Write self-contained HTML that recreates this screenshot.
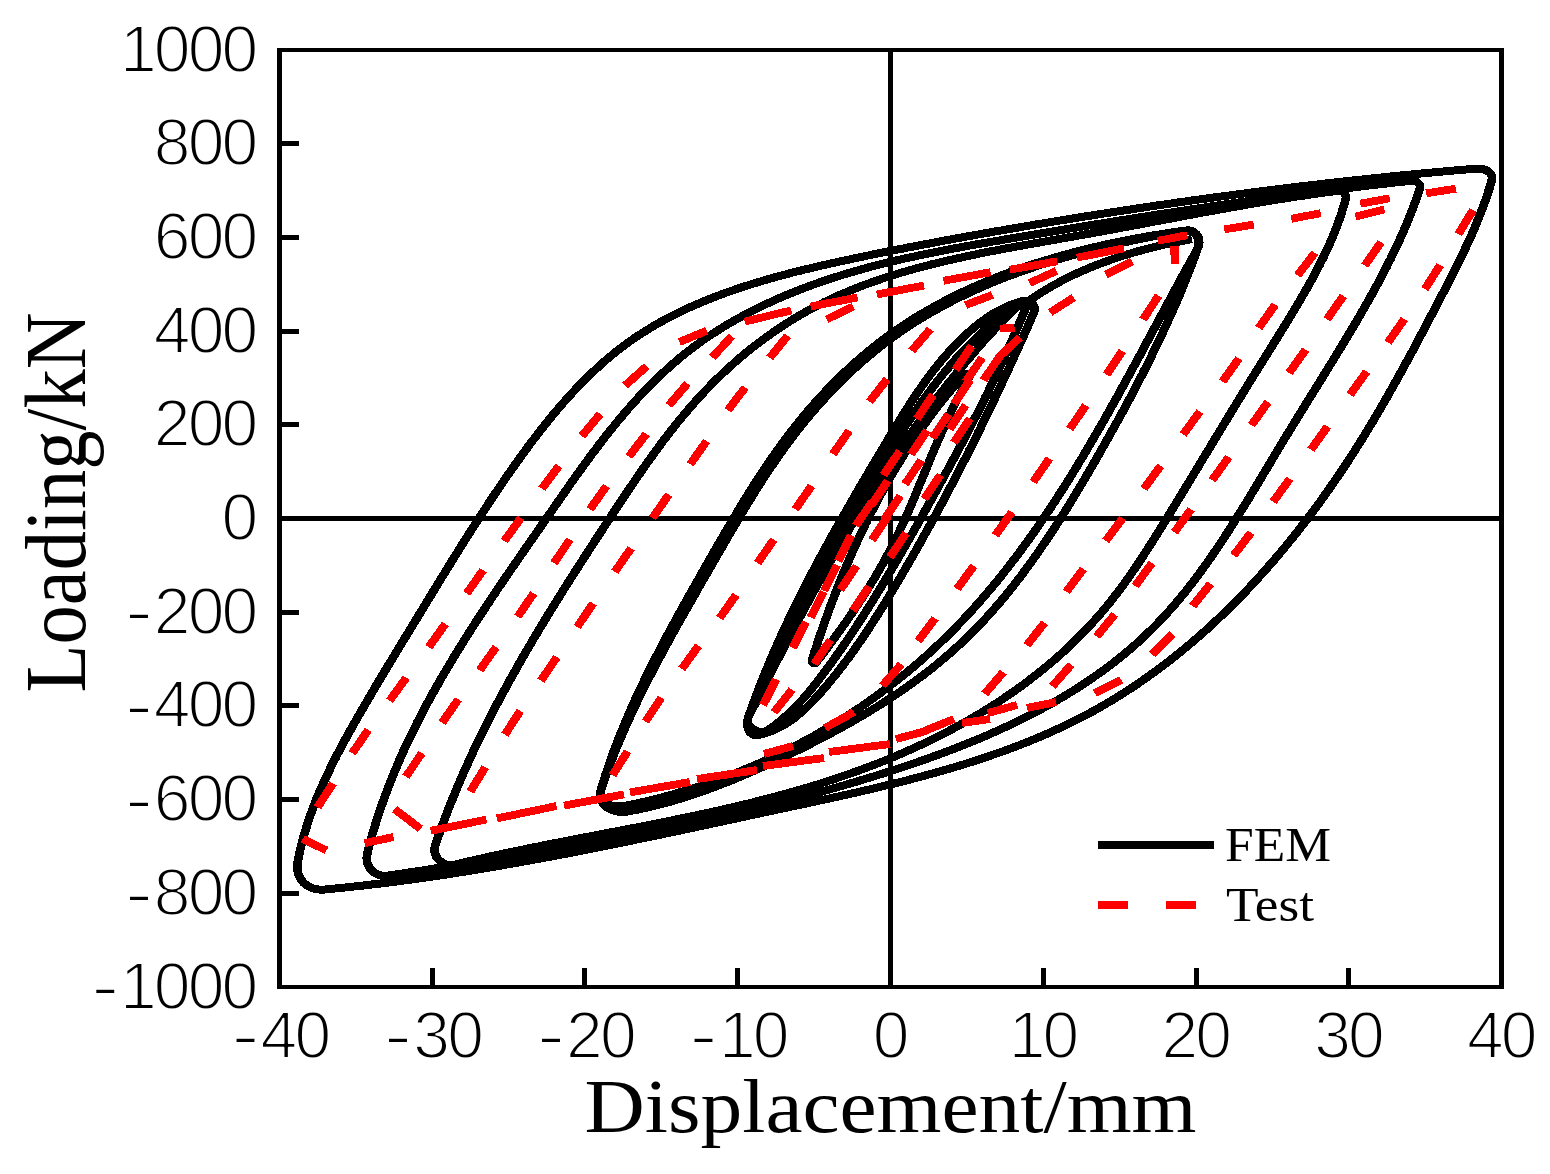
<!DOCTYPE html>
<html lang="en">
<head>
<meta charset="utf-8">
<title>Loading - Displacement hysteresis curves (FEM vs Test)</title>
<style>
html,body{margin:0;padding:0;background:#fff;}
body{width:1550px;height:1174px;overflow:hidden;}
svg{display:block;}
.tick{font-family:"Liberation Sans","DejaVu Sans",sans-serif;font-size:66px;fill:#000;}
.ser{font-family:"Liberation Serif","DejaVu Serif",serif;fill:#000;}
</style>
</head>
<body>
<svg width="1550" height="1174" viewBox="0 0 1550 1174">
<rect x="0" y="0" width="1550" height="1174" fill="#ffffff"/>

<g id="axes" fill="#000000" shape-rendering="crispEdges">
<rect x="277" y="48" width="1227" height="4"/>
<rect x="277" y="985" width="1227" height="4"/>
<rect x="277" y="48" width="5" height="941"/>
<rect x="1499" y="48" width="5" height="941"/>
<rect x="888" y="48" width="5" height="941"/>
<rect x="277" y="516" width="1227" height="5"/>
<rect x="430" y="968" width="5" height="18"/>
<rect x="582" y="968" width="5" height="18"/>
<rect x="735" y="968" width="5" height="18"/>
<rect x="1041" y="968" width="5" height="18"/>
<rect x="1194" y="968" width="5" height="18"/>
<rect x="1346" y="968" width="5" height="18"/>
<rect x="281" y="891" width="18" height="5"/>
<rect x="281" y="797" width="18" height="5"/>
<rect x="281" y="703" width="18" height="5"/>
<rect x="281" y="610" width="18" height="5"/>
<rect x="281" y="422" width="18" height="5"/>
<rect x="281" y="329" width="18" height="5"/>
<rect x="281" y="235" width="18" height="5"/>
<rect x="281" y="141" width="18" height="5"/>
</g>
<g id="fem" shape-rendering="crispEdges" transform="scale(1.08,1)" fill="none" stroke="#000000" stroke-width="8" stroke-linejoin="round" stroke-linecap="butt">
<path d="M751.9 660.0L753.0 656.2L754.1 652.3L755.3 648.5L756.5 644.7L757.6 640.8L758.8 637.0L760.0 633.2L761.3 629.4L762.5 625.6L763.7 621.8L765.0 618.0L766.3 614.2L767.5 610.4L768.8 606.6L770.1 602.8L771.5 599.0L772.8 595.2L774.2 591.5L775.5 587.7L776.9 583.9L778.3 580.2L779.7 576.4L781.1 572.7L782.6 569.0L784.0 565.3L785.5 561.5L787.0 557.8L788.5 554.1L790.0 550.4L791.5 546.7L793.1 543.1L794.6 539.4L796.2 535.7L797.8 532.1L799.4 528.5L801.0 524.8L802.7 521.2L804.3 517.6L806.0 514.0L807.7 510.4L809.4 506.8L811.1 503.2L812.9 499.7L814.6 496.1L816.4 492.6L818.2 489.0L820.0 485.5L821.9 482.0L823.7 478.5L825.6 475.0L827.5 471.6L829.4 468.1L831.3 464.6L833.3 461.2L835.2 457.8L837.2 454.4L839.2 451.0L841.2 447.6L843.3 444.2L845.4 440.9L847.4 437.5L849.5 434.2L851.7 430.9L853.8 427.6L856.0 424.3L858.2 421.1L860.4 417.8L862.6 414.6L864.8 411.3L867.1 408.1L869.4 405.0L871.7 401.8L874.0 398.6L876.4 395.5L878.8 392.4L881.2 389.3L883.6 386.2L886.0 383.1L888.5 380.0L891.0 377.0L893.5 374.0L894.2 373.5L894.9 373.5L895.7 373.8L896.4 374.5L897.0 375.3L897.3 376.2L897.4 377.1L897.2 378.0L895.3 381.5L893.5 385.0L891.7 388.5L889.9 392.0L888.2 395.6L886.5 399.1L884.8 402.7L883.1 406.3L881.5 409.9L879.9 413.5L878.3 417.1L876.7 420.8L875.2 424.4L873.7 428.1L872.1 431.7L870.7 435.4L869.2 439.1L867.7 442.7L866.3 446.4L864.8 450.1L863.4 453.8L861.9 457.5L860.5 461.2L859.1 464.9L857.7 468.6L856.3 472.3L854.9 476.0L853.5 479.7L852.0 483.4L850.6 487.1L849.2 490.8L847.8 494.5L846.3 498.2L844.9 501.9L843.4 505.6L842.0 509.2L840.5 512.9L839.0 516.5L837.5 520.2L836.0 523.8L834.4 527.4L832.9 531.1L831.3 534.7L829.7 538.3L828.0 541.8L826.4 545.4L824.7 548.9L823.0 552.5L821.3 556.0L819.5 559.5L817.7 563.0L815.9 566.5L814.1 570.0L812.2 573.4L810.4 576.9L808.5 580.3L806.5 583.7L804.6 587.1L802.6 590.5L800.7 593.9L798.7 597.3L796.6 600.6L794.6 604.0L792.5 607.3L790.5 610.7L788.4 614.0L786.3 617.3L784.2 620.6L782.0 623.9L779.9 627.2L777.7 630.5L775.5 633.8L773.3 637.0L771.2 640.3L768.9 643.5L766.7 646.8L764.5 650.0L762.3 653.3L760.0 656.5L757.7 659.7L755.5 663.0L754.9 663.4L754.3 663.5L753.6 663.4L753.0 662.9L752.4 662.3L752.0 661.6L751.8 660.8L751.9 660.0L753.0 656.2"/>
<path d="M693.0 717.0L694.7 713.4L696.3 709.9L698.0 706.3L699.7 702.8L701.3 699.2L703.0 695.7L704.6 692.2L706.3 688.6L708.0 685.1L709.7 681.5L711.3 678.0L713.0 674.4L714.7 670.9L716.4 667.3L718.1 663.8L719.8 660.2L721.5 656.7L723.2 653.1L724.9 649.6L726.6 646.0L728.3 642.5L730.0 638.9L731.7 635.4L733.5 631.9L735.2 628.3L736.9 624.8L738.7 621.2L740.4 617.7L742.2 614.2L743.9 610.6L745.7 607.1L747.4 603.6L749.2 600.1L751.0 596.6L752.7 593.0L754.5 589.5L756.3 586.0L758.1 582.5L759.9 579.0L761.7 575.5L763.5 572.0L765.3 568.5L767.2 565.0L769.0 561.5L770.8 558.0L772.7 554.5L774.5 551.1L776.4 547.6L778.2 544.1L780.1 540.6L782.0 537.2L783.8 533.7L785.7 530.3L787.6 526.8L789.5 523.4L791.4 519.9L793.4 516.5L795.3 513.1L797.2 509.7L799.1 506.2L801.1 502.8L803.0 499.4L805.0 496.0L807.0 492.6L809.0 489.2L810.9 485.9L812.9 482.5L814.9 479.1L817.0 475.8L819.0 472.4L821.0 469.1L823.0 465.7L825.1 462.4L827.1 459.1L829.2 455.7L831.3 452.4L833.4 449.1L835.5 445.8L837.6 442.5L839.7 439.2L841.8 436.0L843.9 432.7L846.1 429.4L848.2 426.2L850.4 422.9L852.6 419.7L854.7 416.5L856.9 413.3L859.1 410.1L861.3 406.9L863.6 403.7L865.8 400.5L868.1 397.3L870.3 394.1L872.6 391.0L874.9 387.8L877.1 384.7L879.4 381.6L881.8 378.5L884.1 375.4L886.4 372.3L888.8 369.2L891.1 366.1L893.5 363.1L895.9 360.0L898.3 357.0L900.7 353.9L903.1 350.9L905.5 347.9L908.0 344.9L910.4 341.9L912.9 338.9L915.4 336.0L917.9 333.0L920.4 330.1L922.9 327.2L925.4 324.2L928.0 321.3L930.5 318.4L933.1 315.6L935.7 312.7L938.3 309.8L940.9 307.0L943.5 304.2L946.2 301.4"/>
<path d="M693.0 716.9L694.6 713.4L696.3 709.8L698.0 706.2L699.6 702.6L701.3 699.0L702.9 695.5L704.6 691.9L706.2 688.3L707.9 684.7L709.5 681.1L711.2 677.5L712.8 673.9L714.5 670.3L716.1 666.7L717.8 663.1L719.5 659.5L721.1 655.9L722.8 652.3L724.4 648.7L726.1 645.1L727.8 641.5L729.4 637.9L731.1 634.4L732.8 630.8L734.4 627.2L736.1 623.6L737.8 620.0L739.5 616.4L741.1 612.8L742.8 609.2L744.5 605.6L746.2 602.0L747.9 598.4L749.6 594.8L751.3 591.3L753.0 587.7L754.7 584.1L756.4 580.5L758.1 576.9L759.9 573.4L761.6 569.8L763.3 566.2L765.1 562.6L766.8 559.1L768.6 555.5L770.3 551.9L772.1 548.4L773.8 544.8L775.6 541.3L777.4 537.7L779.2 534.2L780.9 530.6L782.7 527.1L784.5 523.5L786.4 520.0L788.2 516.5L790.0 513.0L791.8 509.4L793.7 505.9L795.5 502.4L797.3 498.9L799.2 495.4L801.1 491.9L802.9 488.4L804.8 484.9L806.7 481.4L808.6 477.9L810.5 474.4L812.4 470.9L814.4 467.5L816.3 464.0L818.2 460.5L820.2 457.1L822.1 453.6L824.1 450.2L826.1 446.7L828.1 443.3L830.1 439.9L832.1 436.4L834.1 433.0L836.2 429.6L838.2 426.2L840.3 422.9L842.4 419.5L844.5 416.1L846.6 412.8L848.7 409.5L850.8 406.2L853.0 402.9L855.2 399.6L857.4 396.3L859.6 393.1L861.8 389.9L864.0 386.7L866.3 383.5L868.6 380.3L870.9 377.2L873.2 374.0L875.6 371.0L878.0 367.9L880.4 364.8L882.8 361.8L885.2 358.8L887.7 355.9L890.2 352.9L892.7 350.0L895.3 347.1L897.8 344.3L900.4 341.5L903.1 338.7L905.7 335.9L908.4 333.2L911.1 330.5L913.9 327.9L916.6 325.2L919.4 322.7L922.3 320.1L925.1 317.6L928.0 315.2L931.0 312.7L933.9 310.3L936.9 308.0L940.0 305.7L943.0 303.4L946.1 301.2L947.1 300.8L948.0 301.0L948.8 301.5L949.5 302.3L950.0 303.4L950.3 304.6L950.4 305.9L950.1 307.0L948.7 310.8L947.3 314.5L945.9 318.2L944.4 321.9L943.0 325.6L941.5 329.2L940.1 332.9L938.6 336.6L937.1 340.2L935.6 343.9L934.1 347.5L932.6 351.2L931.1 354.8L929.6 358.4L928.0 362.0L926.5 365.6L924.9 369.3L923.3 372.9L921.8 376.4L920.2 380.0L918.6 383.6L917.0 387.2L915.4 390.8L913.8 394.3L912.1 397.9L910.5 401.5L908.9 405.0L907.2 408.6L905.6 412.1L903.9 415.7L902.2 419.2L900.6 422.7L898.9 426.3L897.2 429.8L895.5 433.3L893.8 436.8L892.1 440.4L890.4 443.9L888.6 447.4L886.9 450.9L885.2 454.4L883.4 457.9L881.7 461.4L880.0 464.9L878.2 468.4L876.4 471.9L874.7 475.4L872.9 478.9L871.1 482.4L869.4 485.9L867.6 489.4L865.8 492.9L864.0 496.4L862.2 499.8L860.4 503.3L858.6 506.8L856.8 510.3L855.0 513.8L853.2 517.3L851.4 520.8L849.6 524.3L847.8 527.7L845.9 531.2L844.1 534.7L842.3 538.2L840.4 541.7L838.6 545.2L836.7 548.6L834.9 552.1L833.0 555.6L831.2 559.1L829.3 562.5L827.4 566.0L825.5 569.5L823.6 572.9L821.8 576.4L819.8 579.8L817.9 583.3L816.0 586.7L814.1 590.1L812.2 593.5L810.2 597.0L808.3 600.4L806.3 603.8L804.3 607.2L802.4 610.6L800.4 614.0L798.4 617.3L796.4 620.7L794.3 624.1L792.3 627.4L790.3 630.8L788.2 634.1L786.1 637.4L784.1 640.7L782.0 644.0L779.9 647.3L777.8 650.6L775.6 653.9L773.5 657.1L771.4 660.4L769.2 663.6L767.0 666.9L764.8 670.1L762.6 673.3L760.4 676.4L758.2 679.6L755.9 682.8L753.6 685.9L751.3 689.0L749.0 692.0L746.6 695.1L744.2 698.1L741.7 701.0L739.2 703.9L736.7 706.8L734.1 709.6L731.4 712.4L728.7 715.1L725.9 717.7L723.1 720.3L720.2 722.9L717.3 725.3L714.2 727.7L711.1 730.0L707.9 731.6L704.3 731.9L700.7 731.0L697.4 729.3L694.7 726.8L692.8 723.8L692.2 720.5L693.0 716.9L694.6 713.4"/>
<path d="M693.0 717.0L694.2 713.2L695.5 709.4L696.8 705.5L698.1 701.7L699.4 697.9L700.7 694.2L702.0 690.4L703.4 686.6L704.8 682.9L706.1 679.1L707.5 675.4L708.9 671.7L710.3 668.0L711.8 664.3L713.2 660.6L714.7 656.9L716.1 653.2L717.6 649.6L719.1 645.9L720.6 642.3L722.1 638.7L723.6 635.0L725.2 631.4L726.7 627.8L728.3 624.2L729.8 620.6L731.4 617.0L733.0 613.4L734.6 609.8L736.2 606.3L737.9 602.7L739.5 599.1L741.1 595.6L742.8 592.0L744.4 588.5L746.1 584.9L747.8 581.4L749.5 577.9L751.2 574.4L752.9 570.8L754.6 567.3L756.3 563.8L758.1 560.3L759.8 556.8L761.6 553.3L763.3 549.8L765.1 546.3L766.9 542.8L768.7 539.3L770.4 535.8L772.2 532.3L774.0 528.9L775.9 525.4L777.7 521.9L779.5 518.4L781.3 514.9L783.2 511.5L785.0 508.0L786.9 504.5L788.7 501.0L790.6 497.5L792.4 494.1L794.3 490.6L796.2 487.1L798.1 483.6L800.0 480.2L801.9 476.7L803.7 473.2L805.6 469.7L807.6 466.2L809.5 462.7L811.4 459.2L813.3 455.8L815.2 452.3L817.1 448.8L819.1 445.3L821.0 441.8L822.9 438.3L824.9 434.8L826.8 431.3L828.8 427.8L830.8 424.3L832.7 420.8L834.7 417.3L836.7 413.8L838.7 410.4L840.8 407.0L842.8 403.5L844.9 400.1L847.0 396.7L849.0 393.4L851.2 390.0L853.3 386.7L855.5 383.4L857.6 380.1L859.8 376.9L862.1 373.7L864.3 370.5L866.6 367.3L868.9 364.2L871.2 361.1L873.6 358.1L876.0 355.1L878.4 352.1L880.9 349.2L883.4 346.3L885.9 343.5L888.5 340.7L891.1 338.0L893.7 335.3L896.4 332.7L899.1 330.1L901.9 327.6L904.7 325.1L907.5 322.7L910.4 320.4L913.3 318.1L916.3 315.9L919.4 313.8L922.5 311.8L925.7 310.0L928.9 308.2L932.2 306.5L935.6 305.0L939.1 303.6L942.6 302.4L946.2 301.3L948.7 300.9L951.1 301.2L953.4 302.0L955.3 303.4L956.8 305.1L957.8 307.2L958.0 309.5L957.5 312.0L956.0 315.7L954.5 319.4L953.0 323.1L951.5 326.8L950.0 330.4L948.5 334.1L947.0 337.8L945.4 341.5L943.9 345.1L942.4 348.8L940.9 352.5L939.3 356.1L937.8 359.8L936.2 363.4L934.7 367.1L933.1 370.7L931.6 374.4L930.0 378.0L928.4 381.6L926.9 385.3L925.3 388.9L923.7 392.5L922.1 396.2L920.5 399.8L918.9 403.4L917.3 407.0L915.7 410.6L914.1 414.3L912.5 417.9L910.8 421.5L909.2 425.1L907.6 428.7L905.9 432.3L904.3 435.9L902.6 439.5L901.0 443.0L899.3 446.6L897.6 450.2L896.0 453.8L894.3 457.4L892.6 461.0L890.9 464.5L889.2 468.1L887.5 471.7L885.8 475.2L884.1 478.8L882.4 482.4L880.6 485.9L878.9 489.5L877.2 493.0L875.4 496.6L873.7 500.1L871.9 503.7L870.2 507.2L868.4 510.7L866.6 514.3L864.8 517.8L863.0 521.3L861.2 524.9L859.4 528.4L857.6 531.9L855.8 535.4L854.0 539.0L852.2 542.5L850.4 546.0L848.5 549.5L846.7 553.0L844.8 556.5L843.0 560.0L841.1 563.5L839.2 567.0L837.3 570.5L835.5 574.0L833.6 577.5L831.7 581.0L829.7 584.5L827.8 587.9L825.9 591.4L824.0 594.9L822.0 598.4L820.1 601.8L818.1 605.3L816.1 608.7L814.2 612.2L812.2 615.6L810.1 619.0L808.1 622.4L806.1 625.8L804.0 629.2L802.0 632.6L799.9 635.9L797.8 639.3L795.7 642.6L793.5 645.9L791.4 649.2L789.2 652.5L787.1 655.7L784.9 659.0L782.6 662.2L780.4 665.4L778.1 668.6L775.9 671.8L773.6 674.9L771.2 678.0L768.9 681.1L766.5 684.2L764.1 687.3L761.7 690.3L759.3 693.3L756.8 696.3L754.3 699.2L751.8 702.1L749.2 704.9L746.6 707.7L743.9 710.4L741.2 713.0L738.4 715.5L735.5 718.0L732.6 720.3L729.6 722.5L726.4 724.6L723.3 726.6L720.0 728.4L716.6 730.1L713.1 731.6L709.4 732.9L705.7 734.1L701.9 735.1L699.0 735.2L696.6 734.3L694.7 732.6L693.3 730.1L692.4 727.1L692.0 723.8L692.2 720.4L693.0 717.0L694.2 713.2"/>
<path d="M953.7 300.0L956.8 297.7L959.9 295.5L963.1 293.3L966.3 291.1L969.5 289.0L972.7 287.0L976.0 285.0L979.3 283.0L982.6 281.1L985.9 279.2L989.3 277.4L992.6 275.7L996.0 273.9L999.4 272.2L1002.9 270.6L1006.3 269.0L1009.8 267.4L1013.3 265.9L1016.8 264.4L1020.3 263.0L1023.8 261.6L1027.4 260.2L1030.9 258.9L1034.5 257.6L1038.1 256.3L1041.7 255.1L1045.3 253.9L1048.9 252.8L1052.5 251.6L1056.1 250.6L1059.8 249.5L1063.4 248.5L1067.0 247.5L1070.7 246.5L1074.4 245.6L1078.0 244.6L1081.7 243.8L1085.4 242.9L1089.0 242.1L1092.7 241.3L1096.4 240.5L1100.0 239.7L1103.7 239.0"/>
<path d="M556.4 790.0L557.6 786.2L558.8 782.4L560.0 778.6L561.3 774.8L562.6 771.0L563.9 767.3L565.2 763.5L566.5 759.8L567.9 756.1L569.2 752.3L570.6 748.6L572.0 744.9L573.5 741.2L574.9 737.5L576.4 733.9L577.9 730.2L579.3 726.5L580.9 722.9L582.4 719.3L583.9 715.6L585.5 712.0L587.1 708.4L588.6 704.8L590.2 701.1L591.9 697.5L593.5 694.0L595.1 690.4L596.8 686.8L598.4 683.2L600.1 679.6L601.8 676.1L603.5 672.5L605.2 669.0L606.9 665.4L608.7 661.9L610.4 658.3L612.2 654.8L613.9 651.2L615.7 647.7L617.5 644.2L619.2 640.7L621.0 637.1L622.8 633.6L624.6 630.1L626.4 626.6L628.2 623.1L630.1 619.6L631.9 616.1L633.7 612.6L635.6 609.1L637.4 605.6L639.3 602.1L641.1 598.6L643.0 595.1L644.8 591.6L646.7 588.1L648.5 584.6L650.4 581.1L652.2 577.6L654.1 574.2L656.0 570.7L657.8 567.2L659.7 563.7L661.6 560.2L663.4 556.7L665.3 553.2L667.2 549.7L669.0 546.2L670.9 542.7L672.8 539.2L674.6 535.7L676.5 532.3L678.4 528.8L680.3 525.3L682.2 521.8L684.1 518.3L686.0 514.9L687.9 511.4L689.8 508.0L691.8 504.5L693.7 501.1L695.7 497.7L697.6 494.2L699.6 490.8L701.6 487.4L703.6 484.0L705.6 480.6L707.6 477.2L709.7 473.9L711.7 470.5L713.8 467.2L715.9 463.9L718.0 460.5L720.1 457.2L722.3 453.9L724.4 450.7L726.6 447.4L728.8 444.2L731.0 440.9L733.3 437.7L735.5 434.5L737.8 431.3L740.1 428.2L742.4 425.0L744.8 421.9L747.2 418.8L749.5 415.7L751.9 412.6L754.4 409.6L756.8 406.6L759.3 403.6L761.8 400.6L764.3 397.6L766.8 394.7L769.4 391.7L771.9 388.8L774.5 386.0L777.2 383.1L779.8 380.3L782.4 377.5L785.1 374.7L787.8 372.0L790.5 369.3L793.3 366.6L796.0 363.9L798.8 361.3L801.6 358.6L804.4 356.1L807.3 353.5L810.1 351.0L813.0 348.5L815.9 346.0L818.9 343.6L821.8 341.2L824.8 338.8L827.8 336.4L830.8 334.1L833.8 331.9L836.9 329.6L839.9 327.4L843.0 325.2L846.1 323.0L849.2 320.9L852.4 318.8L855.6 316.8L858.7 314.7L861.9 312.7L865.1 310.7L868.4 308.8L871.6 306.9L874.9 305.0L878.2 303.1L881.5 301.2L884.8 299.4L888.1 297.6L891.4 295.9L894.8 294.2L898.1 292.4L901.5 290.8L904.9 289.1L908.3 287.5L911.7 285.9L915.2 284.3L918.6 282.7L922.1 281.2L925.5 279.7L929.0 278.2L932.5 276.7L936.0 275.3L939.5 273.9L943.0 272.5L946.5 271.1L950.0 269.8L953.6 268.5L957.1 267.2L960.7 265.9L964.2 264.6L967.8 263.4L971.4 262.2L975.0 261.0L978.5 259.8L982.1 258.6L985.7 257.5L989.3 256.4L992.9 255.3L996.6 254.2L1000.2 253.1L1003.8 252.1L1007.4 251.0L1011.0 250.0L1014.7 249.0L1018.3 248.1L1021.9 247.1L1025.6 246.2L1029.2 245.2L1032.8 244.3L1036.5 243.4L1040.1 242.6L1043.8 241.7L1047.4 240.9L1051.0 240.0L1054.7 239.2L1058.3 238.4L1061.9 237.6L1065.6 236.8L1069.2 236.1L1072.8 235.3L1076.5 234.6L1080.1 233.9L1083.7 233.2L1087.3 232.5L1090.9 231.8L1094.5 231.1L1098.1 230.5L1101.4 230.5L1104.2 231.6L1106.5 233.6L1108.3 236.3L1109.4 239.5L1109.8 243.0L1109.4 246.6L1108.2 250.0L1106.4 253.4L1104.7 256.9L1102.9 260.3L1101.2 263.8L1099.4 267.2L1097.6 270.7L1095.9 274.2L1094.1 277.6L1092.4 281.1L1090.6 284.6L1088.9 288.1L1087.1 291.6L1085.4 295.1L1083.6 298.6L1081.9 302.1L1080.1 305.6L1078.4 309.2L1076.6 312.7L1074.9 316.2L1073.1 319.7L1071.3 323.3L1069.6 326.8L1067.8 330.4L1066.1 333.9L1064.3 337.4L1062.5 341.0L1060.8 344.5L1059.0 348.1L1057.2 351.6L1055.5 355.2L1053.7 358.7L1051.9 362.3L1050.1 365.8L1048.3 369.4L1046.5 372.9L1044.7 376.5L1042.9 380.0L1041.1 383.6L1039.3 387.1L1037.5 390.7L1035.7 394.2L1033.9 397.8L1032.1 401.3L1030.2 404.8L1028.4 408.4L1026.6 411.9L1024.7 415.4L1022.9 419.0L1021.0 422.5L1019.1 426.0L1017.3 429.5L1015.4 433.0L1013.5 436.5L1011.6 440.0L1009.7 443.5L1007.8 447.0L1005.9 450.5L1004.0 454.0L1002.1 457.5L1000.1 460.9L998.2 464.4L996.3 467.9L994.3 471.3L992.3 474.8L990.4 478.2L988.4 481.6L986.4 485.1L984.4 488.5L982.4 491.9L980.3 495.3L978.3 498.7L976.3 502.1L974.2 505.4L972.2 508.8L970.1 512.1L968.0 515.5L965.9 518.8L963.8 522.2L961.7 525.5L959.6 528.8L957.5 532.1L955.3 535.4L953.2 538.6L951.0 541.9L948.8 545.1L946.6 548.4L944.4 551.6L942.2 554.8L940.0 558.0L937.7 561.2L935.5 564.4L933.2 567.5L930.9 570.7L928.6 573.8L926.3 577.0L924.0 580.1L921.6 583.2L919.3 586.2L916.9 589.3L914.5 592.3L912.1 595.4L909.7 598.4L907.3 601.4L904.9 604.4L902.4 607.4L899.9 610.3L897.4 613.3L894.9 616.2L892.4 619.1L889.9 622.0L887.3 624.8L884.8 627.7L882.2 630.5L879.6 633.3L877.0 636.1L874.3 638.9L871.7 641.7L869.0 644.4L866.3 647.2L863.6 649.9L860.9 652.5L858.2 655.2L855.4 657.9L852.7 660.5L849.9 663.1L847.1 665.7L844.3 668.3L841.4 670.8L838.6 673.4L835.7 675.9L832.8 678.4L830.0 680.8L827.0 683.3L824.1 685.7L821.2 688.1L818.2 690.5L815.3 692.9L812.3 695.3L809.3 697.6L806.3 699.9L803.3 702.2L800.2 704.5L797.2 706.8L794.1 709.0L791.0 711.2L787.9 713.4L784.8 715.6L781.7 717.7L778.6 719.9L775.5 722.0L772.3 724.1L769.1 726.1L765.9 728.2L762.7 730.2L759.5 732.2L756.3 734.2L753.1 736.2L749.8 738.1L746.6 740.0L743.3 741.9L740.0 743.8L736.8 745.7L733.5 747.5L730.1 749.3L726.8 751.1L723.5 752.9L720.1 754.6L716.8 756.4L713.4 758.1L710.0 759.8L706.6 761.4L703.2 763.1L699.8 764.7L696.4 766.3L693.0 767.8L689.5 769.4L686.1 770.9L682.6 772.4L679.2 773.9L675.7 775.4L672.2 776.8L668.7 778.2L665.2 779.6L661.7 781.0L658.2 782.3L654.6 783.6L651.1 784.9L647.5 786.2L644.0 787.5L640.4 788.7L636.8 789.9L633.2 791.1L629.7 792.2L626.1 793.4L622.4 794.5L618.8 795.6L615.2 796.6L611.6 797.7L607.9 798.7L604.3 799.7L600.7 800.7L597.0 801.6L593.3 802.5L589.7 803.4L586.0 804.3L582.3 805.1L578.6 805.9L574.1 806.5L569.6 806.3L565.4 805.3L561.7 803.5L558.6 801.1L556.6 798.0L555.8 794.3L556.4 790.0L557.6 786.2"/>
<path d="M556.4 790.0L557.5 786.1L558.6 782.3L559.7 778.4L560.8 774.6L562.0 770.8L563.2 767.0L564.4 763.2L565.6 759.5L566.9 755.7L568.1 751.9L569.4 748.2L570.7 744.4L572.1 740.7L573.4 737.0L574.8 733.3L576.2 729.6L577.6 725.9L579.0 722.2L580.5 718.5L581.9 714.8L583.4 711.2L584.9 707.5L586.4 703.9L587.9 700.2L589.5 696.6L591.0 693.0L592.6 689.4L594.2 685.7L595.8 682.1L597.4 678.5L599.0 674.9L600.7 671.3L602.3 667.8L604.0 664.2L605.7 660.6L607.4 657.0L609.1 653.5L610.8 649.9L612.5 646.4L614.2 642.8L615.9 639.3L617.7 635.7L619.5 632.2L621.2 628.7L623.0 625.1L624.8 621.6L626.6 618.1L628.4 614.5L630.2 611.0L632.0 607.5L633.8 604.0L635.6 600.5L637.4 597.0L639.2 593.5L641.1 590.0L642.9 586.4L644.7 582.9L646.6 579.4L648.4 575.9L650.3 572.4L652.1 568.9L654.0 565.4L655.8 561.9L657.7 558.4L659.5 554.9L661.4 551.4L663.3 547.9L665.1 544.4L667.0 540.9L668.9 537.4L670.7 534.0L672.6 530.5L674.5 527.0L676.4 523.5L678.3 520.0L680.2 516.6L682.1 513.1L684.0 509.6L685.9 506.2L687.9 502.7L689.8 499.3L691.8 495.9L693.7 492.4L695.7 489.0L697.7 485.6L699.7 482.2L701.7 478.9L703.8 475.5L705.8 472.1L707.9 468.8L709.9 465.4L712.0 462.1L714.1 458.8L716.3 455.5L718.4 452.2L720.6 448.9L722.8 445.7L725.0 442.4L727.2 439.2L729.4 436.0L731.7 432.8L734.0 429.6L736.3 426.5L738.6 423.3L740.9 420.2L743.3 417.1L745.7 414.0L748.1 410.9L750.5 407.9L753.0 404.9L755.4 401.9L757.9 398.9L760.4 395.9L762.9 393.0L765.5 390.1L768.1 387.2L770.6 384.3L773.2 381.4L775.9 378.6L778.5 375.8L781.2 373.0L783.9 370.3L786.6 367.6L789.3 364.9L792.1 362.2L794.9 359.6L797.7 356.9L800.5 354.4L803.3 351.8L806.2 349.3L809.1 346.8L812.0 344.3L814.9 341.9L817.8 339.4L820.8 337.1L823.8 334.7L826.8 332.4L829.8 330.1L832.8 327.9L835.9 325.6L839.0 323.4L842.1 321.3L845.2 319.1L848.3 317.0L851.5 315.0L854.7 312.9L857.9 310.9L861.1 308.9L864.3 307.0L867.5 305.0L870.8 303.1L874.1 301.3L877.4 299.4L880.7 297.6L884.0 295.8L887.3 294.0L890.7 292.3L894.0 290.6L897.4 288.9L900.8 287.3L904.2 285.6L907.6 284.0L911.1 282.5L914.5 280.9L917.9 279.4L921.4 277.9L924.9 276.4L928.4 274.9L931.9 273.5L935.4 272.1L938.9 270.7L942.4 269.4L945.9 268.0L949.5 266.7L953.0 265.4L956.6 264.2L960.2 262.9L963.7 261.7L967.3 260.5L970.9 259.4L974.5 258.2L978.1 257.1L981.7 256.0L985.3 254.9L988.9 253.8L992.5 252.8L996.2 251.7L999.8 250.7L1003.4 249.7L1007.1 248.8L1010.7 247.8L1014.3 246.9L1018.0 246.0L1021.6 245.1L1025.3 244.2L1028.9 243.4L1032.6 242.6L1036.2 241.7L1039.9 241.0L1043.5 240.2L1047.2 239.4L1050.8 238.7L1054.5 237.9L1058.1 237.2L1061.8 236.5L1065.4 235.9L1069.1 235.2L1072.7 234.6L1076.4 233.9L1080.0 233.3L1083.6 232.7L1087.3 232.1L1090.9 231.6L1094.5 231.0L1098.1 230.5L1101.1 230.4L1103.8 231.2L1106.2 232.6L1108.1 234.6L1109.5 237.0L1110.3 239.8L1110.4 242.9L1109.8 246.0L1108.5 249.8L1107.2 253.6L1105.9 257.4L1104.6 261.1L1103.3 264.9L1102.0 268.6L1100.6 272.4L1099.3 276.1L1097.9 279.8L1096.5 283.5L1095.1 287.2L1093.7 290.9L1092.3 294.6L1090.8 298.3L1089.4 301.9L1087.9 305.6L1086.4 309.2L1085.0 312.9L1083.5 316.5L1081.9 320.1L1080.4 323.8L1078.9 327.4L1077.3 331.0L1075.8 334.6L1074.2 338.2L1072.6 341.8L1071.0 345.4L1069.4 348.9L1067.8 352.5L1066.2 356.1L1064.6 359.6L1062.9 363.2L1061.3 366.7L1059.6 370.3L1058.0 373.8L1056.3 377.4L1054.6 380.9L1052.9 384.4L1051.2 388.0L1049.5 391.5L1047.8 395.0L1046.1 398.5L1044.3 402.0L1042.6 405.5L1040.8 409.0L1039.1 412.6L1037.3 416.1L1035.5 419.6L1033.7 423.1L1031.9 426.6L1030.1 430.0L1028.3 433.5L1026.5 437.0L1024.7 440.5L1022.9 444.0L1021.0 447.5L1019.2 451.0L1017.4 454.5L1015.5 458.0L1013.7 461.5L1011.8 465.0L1009.9 468.5L1008.1 471.9L1006.2 475.4L1004.3 478.9L1002.4 482.4L1000.5 485.9L998.6 489.3L996.6 492.8L994.7 496.3L992.8 499.7L990.8 503.2L988.9 506.6L986.9 510.0L984.9 513.5L982.9 516.9L980.9 520.3L978.9 523.7L976.9 527.1L974.8 530.5L972.8 533.9L970.7 537.2L968.6 540.6L966.5 543.9L964.4 547.3L962.3 550.6L960.2 553.9L958.0 557.2L955.9 560.5L953.7 563.7L951.5 567.0L949.3 570.2L947.1 573.4L944.9 576.6L942.6 579.8L940.3 583.0L938.1 586.1L935.7 589.3L933.4 592.4L931.1 595.5L928.7 598.5L926.4 601.6L924.0 604.6L921.6 607.6L919.1 610.6L916.7 613.6L914.2 616.6L911.7 619.5L909.2 622.4L906.7 625.3L904.1 628.1L901.5 631.0L898.9 633.8L896.3 636.6L893.7 639.3L891.0 642.0L888.4 644.7L885.6 647.4L882.9 650.1L880.2 652.7L877.4 655.3L874.6 657.9L871.8 660.4L869.0 663.0L866.1 665.5L863.3 668.0L860.4 670.4L857.5 672.9L854.6 675.3L851.6 677.7L848.7 680.0L845.7 682.4L842.7 684.7L839.7 687.0L836.7 689.3L833.6 691.6L830.6 693.8L827.5 696.0L824.4 698.2L821.3 700.4L818.2 702.6L815.1 704.7L812.0 706.8L808.8 708.9L805.7 711.0L802.5 713.1L799.3 715.2L796.1 717.2L792.9 719.2L789.7 721.2L786.4 723.2L783.2 725.2L780.0 727.1L776.7 729.1L773.4 731.0L770.1 732.9L766.9 734.8L763.6 736.7L760.3 738.6L757.0 740.4L753.6 742.2L750.3 744.1L747.0 745.9L743.6 747.7L740.3 749.5L737.0 751.2L733.6 753.0L730.2 754.8L726.9 756.5L723.5 758.2L720.1 760.0L716.8 761.7L713.4 763.4L710.0 765.0L706.6 766.7L703.2 768.4L699.8 770.0L696.4 771.6L693.0 773.2L689.6 774.8L686.2 776.4L682.8 777.9L679.3 779.5L675.9 781.0L672.5 782.5L669.0 783.9L665.6 785.4L662.1 786.8L658.6 788.2L655.2 789.6L651.7 790.9L648.2 792.3L644.7 793.6L641.2 794.8L637.7 796.1L634.2 797.3L630.7 798.5L627.2 799.6L623.6 800.8L620.1 801.9L616.5 802.9L613.0 803.9L609.4 804.9L605.8 805.9L602.3 806.8L598.7 807.7L595.1 808.5L591.5 809.4L587.8 810.1L584.2 810.9L580.6 811.6L575.4 812.0L570.4 811.4L565.7 809.7L561.8 807.2L558.6 803.9L556.5 799.9L555.7 795.2L556.4 790.0L557.5 786.1"/>
<path d="M403.1 845.0L404.3 841.1L405.5 837.3L406.8 833.6L408.0 829.8L409.3 826.0L410.6 822.2L411.9 818.5L413.2 814.7L414.6 811.0L415.9 807.2L417.3 803.5L418.7 799.8L420.1 796.1L421.5 792.4L422.9 788.7L424.3 785.0L425.8 781.4L427.3 777.7L428.7 774.0L430.2 770.4L431.7 766.7L433.3 763.1L434.8 759.5L436.3 755.9L437.9 752.2L439.5 748.6L441.1 745.0L442.7 741.4L444.3 737.8L445.9 734.3L447.5 730.7L449.2 727.1L450.8 723.6L452.5 720.0L454.2 716.5L455.9 712.9L457.6 709.4L459.3 705.8L461.0 702.3L462.7 698.8L464.5 695.3L466.2 691.8L468.0 688.3L469.8 684.8L471.6 681.3L473.3 677.8L475.2 674.3L477.0 670.8L478.8 667.3L480.6 663.8L482.4 660.4L484.3 656.9L486.1 653.4L488.0 650.0L489.9 646.5L491.8 643.1L493.6 639.6L495.5 636.2L497.4 632.8L499.3 629.3L501.3 625.9L503.2 622.5L505.1 619.0L507.0 615.6L509.0 612.2L510.9 608.8L512.9 605.4L514.8 602.0L516.8 598.6L518.8 595.1L520.7 591.7L522.7 588.3L524.7 584.9L526.7 581.5L528.7 578.1L530.7 574.7L532.7 571.4L534.7 568.0L536.7 564.6L538.8 561.2L540.8 557.8L542.8 554.4L544.8 551.0L546.9 547.6L548.9 544.3L550.9 540.9L553.0 537.5L555.0 534.1L557.1 530.7L559.1 527.3L561.2 524.0L563.2 520.6L565.3 517.2L567.3 513.8L569.4 510.4L571.5 507.1L573.5 503.7L575.6 500.3L577.7 496.9L579.8 493.6L581.9 490.2L583.9 486.8L586.1 483.5L588.2 480.1L590.3 476.8L592.4 473.5L594.5 470.2L596.7 466.8L598.8 463.5L601.0 460.2L603.2 457.0L605.4 453.7L607.6 450.4L609.8 447.2L612.0 443.9L614.2 440.7L616.5 437.5L618.7 434.3L621.0 431.1L623.3 428.0L625.6 424.8L628.0 421.7L630.3 418.6L632.7 415.5L635.1 412.5L637.5 409.4L639.9 406.4L642.3 403.4L644.8 400.4L647.3 397.4L649.8 394.5L652.3 391.6L654.9 388.7L657.4 385.9L660.0 383.0L662.6 380.2L665.3 377.4L667.9 374.7L670.6 371.9L673.3 369.2L676.0 366.5L678.8 363.9L681.5 361.2L684.3 358.6L687.1 356.1L689.9 353.5L692.8 351.0L695.7 348.5L698.5 346.1L701.4 343.7L704.4 341.3L707.3 338.9L710.3 336.6L713.3 334.3L716.3 332.0L719.3 329.7L722.4 327.5L725.4 325.4L728.5 323.2L731.6 321.1L734.7 319.0L737.9 317.0L741.0 315.0L744.2 313.0L747.4 311.1L750.6 309.2L753.9 307.3L757.1 305.5L760.4 303.7L763.7 301.9L767.0 300.2L770.3 298.5L773.7 296.8L777.0 295.2L780.4 293.6L783.8 292.1L787.2 290.5L790.6 289.0L794.1 287.6L797.5 286.1L801.0 284.7L804.4 283.4L807.9 282.0L811.4 280.7L814.9 279.4L818.4 278.1L822.0 276.9L825.5 275.7L829.1 274.5L832.6 273.3L836.2 272.1L839.8 271.0L843.4 269.9L847.0 268.8L850.6 267.8L854.2 266.7L857.8 265.7L861.4 264.7L865.0 263.7L868.7 262.8L872.3 261.8L875.9 260.9L879.6 260.0L883.2 259.1L886.9 258.2L890.5 257.4L894.2 256.5L897.8 255.7L901.5 254.8L905.2 254.0L908.8 253.2L912.5 252.4L916.1 251.6L919.8 250.9L923.5 250.1L927.2 249.4L930.8 248.6L934.5 247.9L938.2 247.2L941.9 246.4L945.5 245.7L949.2 245.0L952.9 244.3L956.6 243.6L960.2 242.9L963.9 242.2L967.6 241.5L971.3 240.8L974.9 240.1L978.6 239.4L982.3 238.7L985.9 238.0L989.6 237.3L993.3 236.6L996.9 235.9L1000.6 235.2L1004.3 234.5L1007.9 233.8L1011.6 233.1L1015.2 232.4L1018.9 231.7L1022.5 230.9L1026.2 230.2L1029.8 229.5L1033.5 228.8L1037.1 228.0L1040.7 227.3L1044.4 226.6L1048.0 225.8L1051.7 225.1L1055.3 224.4L1058.9 223.6L1062.6 222.9L1066.2 222.1L1069.8 221.4L1073.5 220.7L1077.1 219.9L1080.7 219.2L1084.4 218.5L1088.0 217.7L1091.6 217.0L1095.3 216.3L1098.9 215.5L1102.5 214.8L1106.2 214.1L1109.8 213.3L1113.4 212.6L1117.1 211.9L1120.7 211.2L1124.4 210.5L1128.0 209.8L1131.6 209.1L1135.3 208.3L1138.9 207.6L1142.6 207.0L1146.2 206.3L1149.8 205.6L1153.5 204.9L1157.1 204.2L1160.8 203.5L1164.4 202.9L1168.1 202.2L1171.7 201.6L1175.4 200.9L1179.1 200.3L1182.7 199.6L1186.4 199.0L1190.0 198.4L1193.7 197.8L1197.4 197.1L1201.1 196.5L1204.7 195.9L1208.4 195.4L1212.1 194.8L1215.8 194.2L1219.5 193.6L1223.2 193.1L1226.9 192.5L1230.6 192.0L1234.3 191.5L1238.0 190.9L1239.8 190.9L1241.5 191.2L1243.0 191.8L1244.3 192.8L1245.4 194.0L1246.0 195.5L1246.3 197.2L1246.0 199.0L1245.0 202.9L1244.0 206.7L1242.9 210.5L1241.8 214.3L1240.6 218.0L1239.4 221.8L1238.1 225.5L1236.8 229.2L1235.4 232.9L1234.0 236.6L1232.6 240.2L1231.1 243.9L1229.6 247.5L1228.1 251.1L1226.5 254.7L1224.9 258.3L1223.2 261.8L1221.6 265.4L1219.9 268.9L1218.2 272.4L1216.4 276.0L1214.7 279.5L1212.9 283.0L1211.1 286.5L1209.2 289.9L1207.4 293.4L1205.5 296.9L1203.7 300.3L1201.8 303.8L1199.9 307.2L1198.0 310.7L1196.1 314.1L1194.1 317.5L1192.2 321.0L1190.3 324.4L1188.3 327.8L1186.4 331.2L1184.4 334.6L1182.5 338.0L1180.5 341.4L1178.5 344.9L1176.6 348.3L1174.6 351.7L1172.6 355.1L1170.7 358.5L1168.7 361.9L1166.7 365.3L1164.8 368.7L1162.8 372.1L1160.8 375.5L1158.9 378.9L1156.9 382.3L1155.0 385.7L1153.0 389.2L1151.1 392.6L1149.2 396.0L1147.2 399.4L1145.3 402.8L1143.4 406.2L1141.4 409.7L1139.5 413.1L1137.6 416.5L1135.7 419.9L1133.7 423.4L1131.8 426.8L1129.9 430.2L1128.0 433.7L1126.0 437.1L1124.1 440.5L1122.2 443.9L1120.3 447.4L1118.4 450.8L1116.5 454.2L1114.5 457.7L1112.6 461.1L1110.7 464.5L1108.8 468.0L1106.9 471.4L1104.9 474.8L1103.0 478.3L1101.1 481.7L1099.2 485.1L1097.2 488.5L1095.3 492.0L1093.4 495.4L1091.5 498.8L1089.5 502.3L1087.6 505.7L1085.6 509.1L1083.7 512.5L1081.8 516.0L1079.8 519.4L1077.9 522.8L1075.9 526.2L1073.9 529.7L1072.0 533.1L1070.0 536.5L1068.0 539.9L1066.0 543.3L1064.0 546.7L1062.0 550.1L1060.0 553.4L1058.0 556.8L1055.9 560.1L1053.9 563.5L1051.8 566.8L1049.7 570.1L1047.6 573.4L1045.5 576.7L1043.3 580.0L1041.2 583.2L1039.0 586.4L1036.8 589.7L1034.6 592.8L1032.3 596.0L1030.0 599.2L1027.7 602.3L1025.4 605.4L1023.1 608.4L1020.7 611.5L1018.3 614.5L1015.9 617.5L1013.4 620.5L1011.0 623.4L1008.5 626.3L1005.9 629.2L1003.4 632.1L1000.8 635.0L998.2 637.8L995.6 640.6L992.9 643.3L990.3 646.1L987.6 648.8L984.9 651.5L982.2 654.2L979.4 656.8L976.6 659.5L973.8 662.1L971.0 664.6L968.2 667.2L965.3 669.7L962.4 672.2L959.5 674.7L956.6 677.1L953.7 679.6L950.7 682.0L947.8 684.4L944.8 686.7L941.8 689.1L938.7 691.4L935.7 693.7L932.6 695.9L929.6 698.2L926.5 700.4L923.4 702.6L920.3 704.8L917.1 706.9L914.0 709.1L910.8 711.2L907.6 713.3L904.4 715.3L901.2 717.4L898.0 719.4L894.8 721.4L891.5 723.3L888.3 725.3L885.0 727.2L881.7 729.1L878.4 731.0L875.1 732.9L871.8 734.7L868.5 736.5L865.2 738.3L861.8 740.1L858.5 741.9L855.1 743.6L851.7 745.3L848.3 747.0L844.9 748.7L841.5 750.3L838.1 752.0L834.7 753.6L831.3 755.1L827.9 756.7L824.5 758.3L821.0 759.8L817.6 761.3L814.1 762.8L810.7 764.2L807.2 765.7L803.7 767.1L800.3 768.5L796.8 769.9L793.3 771.3L789.8 772.6L786.3 773.9L782.8 775.3L779.3 776.5L775.8 777.8L772.3 779.1L768.8 780.3L765.3 781.6L761.7 782.8L758.2 784.0L754.7 785.2L751.1 786.3L747.6 787.5L744.0 788.6L740.5 789.7L736.9 790.8L733.3 791.9L729.8 793.0L726.2 794.1L722.6 795.1L719.1 796.2L715.5 797.2L711.9 798.2L708.3 799.2L704.7 800.2L701.1 801.2L697.5 802.2L693.9 803.2L690.3 804.1L686.7 805.0L683.1 806.0L679.5 806.9L675.9 807.8L672.3 808.7L668.6 809.6L665.0 810.5L661.4 811.4L657.8 812.2L654.1 813.1L650.5 813.9L646.9 814.8L643.2 815.6L639.6 816.5L636.0 817.3L632.3 818.1L628.7 818.9L625.0 819.7L621.4 820.5L617.7 821.3L614.1 822.1L610.5 822.9L606.8 823.7L603.2 824.5L599.5 825.3L595.9 826.0L592.2 826.8L588.6 827.6L584.9 828.3L581.2 829.1L577.6 829.9L573.9 830.6L570.3 831.4L566.6 832.1L563.0 832.9L559.3 833.6L555.7 834.4L552.0 835.1L548.4 835.9L544.7 836.7L541.1 837.4L537.4 838.2L533.7 838.9L530.1 839.7L526.4 840.5L522.8 841.2L519.2 842.0L515.5 842.8L511.9 843.5L508.2 844.3L504.6 845.1L500.9 845.9L497.3 846.7L493.6 847.4L490.0 848.2L486.4 849.0L482.7 849.9L479.1 850.7L475.5 851.5L471.9 852.3L468.2 853.1L464.6 854.0L461.0 854.8L457.4 855.7L453.7 856.5L450.1 857.4L446.5 858.3L442.9 859.1L439.3 860.0L435.7 860.9L432.1 861.8L428.5 862.8L424.9 863.7L421.3 864.6L417.1 865.1L413.2 864.5L409.6 862.8L406.6 860.3L404.2 857.2L402.7 853.4L402.3 849.3L403.1 845.0L404.3 841.1"/>
<path d="M340.2 853.0L341.1 849.1L342.0 845.2L343.0 841.3L344.0 837.4L345.0 833.5L346.1 829.7L347.2 825.8L348.3 822.0L349.4 818.2L350.6 814.4L351.7 810.6L352.9 806.8L354.2 803.0L355.4 799.2L356.7 795.5L358.0 791.8L359.3 788.0L360.6 784.3L362.0 780.6L363.3 776.9L364.7 773.2L366.2 769.5L367.6 765.9L369.0 762.2L370.5 758.6L372.0 754.9L373.5 751.3L375.1 747.7L376.6 744.1L378.2 740.5L379.8 736.9L381.4 733.3L383.0 729.8L384.7 726.2L386.3 722.6L388.0 719.1L389.7 715.6L391.4 712.0L393.1 708.5L394.8 705.0L396.6 701.5L398.4 698.0L400.1 694.5L401.9 691.0L403.7 687.5L405.6 684.1L407.4 680.6L409.2 677.1L411.1 673.7L413.0 670.2L414.9 666.8L416.8 663.4L418.7 660.0L420.6 656.5L422.5 653.1L424.5 649.7L426.4 646.3L428.4 642.9L430.3 639.5L432.3 636.1L434.3 632.7L436.3 629.4L438.3 626.0L440.3 622.6L442.3 619.3L444.4 615.9L446.4 612.5L448.5 609.2L450.5 605.8L452.6 602.5L454.6 599.1L456.7 595.8L458.8 592.5L460.8 589.1L462.9 585.8L465.0 582.5L467.1 579.1L469.2 575.8L471.3 572.5L473.4 569.2L475.5 565.9L477.6 562.6L479.8 559.2L481.9 555.9L484.0 552.6L486.1 549.3L488.2 546.0L490.4 542.7L492.5 539.4L494.6 536.1L496.7 532.8L498.9 529.5L501.0 526.2L503.1 522.9L505.2 519.6L507.4 516.3L509.5 513.0L511.6 509.7L513.7 506.4L515.8 503.1L518.0 499.8L520.1 496.5L522.2 493.2L524.4 489.9L526.5 486.6L528.6 483.3L530.8 480.1L532.9 476.8L535.1 473.5L537.2 470.3L539.4 467.1L541.6 463.8L543.8 460.6L545.9 457.4L548.1 454.2L550.4 451.0L552.6 447.8L554.8 444.6L557.1 441.5L559.3 438.3L561.6 435.2L563.9 432.1L566.1 429.0L568.5 425.9L570.8 422.8L573.1 419.8L575.5 416.8L577.8 413.7L580.2 410.7L582.6 407.8L585.1 404.8L587.5 401.9L590.0 398.9L592.4 396.0L594.9 393.2L597.5 390.3L600.0 387.5L602.6 384.7L605.1 381.9L607.8 379.1L610.4 376.4L613.0 373.6L615.7 371.0L618.4 368.3L621.2 365.7L623.9 363.1L626.7 360.5L629.5 357.9L632.4 355.4L635.2 352.9L638.1 350.5L641.1 348.0L644.0 345.6L647.0 343.3L650.0 340.9L653.1 338.6L656.2 336.4L659.3 334.2L662.4 332.0L665.6 329.8L668.8 327.6L672.0 325.5L675.2 323.5L678.5 321.4L681.8 319.4L685.1 317.5L688.4 315.5L691.7 313.6L695.1 311.7L698.4 309.9L701.8 308.1L705.2 306.3L708.6 304.5L712.0 302.8L715.4 301.1L718.8 299.4L722.3 297.8L725.7 296.2L729.2 294.6L732.6 293.1L736.1 291.6L739.5 290.1L743.0 288.7L746.5 287.2L750.0 285.9L753.4 284.5L756.9 283.1L760.4 281.8L763.9 280.5L767.4 279.3L770.9 278.0L774.5 276.8L778.0 275.6L781.5 274.4L785.0 273.3L788.6 272.2L792.1 271.0L795.6 270.0L799.2 268.9L802.7 267.8L806.3 266.8L809.8 265.8L813.4 264.8L817.0 263.9L820.5 262.9L824.1 262.0L827.7 261.0L831.2 260.1L834.8 259.2L838.4 258.4L842.0 257.5L845.6 256.7L849.2 255.8L852.8 255.0L856.4 254.2L860.0 253.4L863.6 252.6L867.2 251.8L870.8 251.1L874.4 250.3L878.0 249.6L881.6 248.8L885.3 248.1L888.9 247.4L892.5 246.6L896.1 245.9L899.8 245.2L903.4 244.5L907.0 243.9L910.6 243.2L914.3 242.5L917.9 241.8L921.6 241.1L925.2 240.5L928.8 239.8L932.5 239.1L936.1 238.4L939.8 237.8L943.4 237.1L947.0 236.4L950.7 235.8L954.3 235.1L958.0 234.5L961.6 233.8L965.3 233.1L968.9 232.5L972.6 231.8L976.2 231.2L979.9 230.5L983.5 229.9L987.2 229.2L990.8 228.5L994.5 227.9L998.2 227.3L1001.8 226.6L1005.5 226.0L1009.1 225.3L1012.8 224.7L1016.4 224.0L1020.1 223.4L1023.8 222.7L1027.4 222.1L1031.1 221.5L1034.8 220.8L1038.4 220.2L1042.1 219.6L1045.7 219.0L1049.4 218.3L1053.1 217.7L1056.7 217.1L1060.4 216.5L1064.1 215.8L1067.8 215.2L1071.4 214.6L1075.1 214.0L1078.8 213.4L1082.4 212.8L1086.1 212.2L1089.8 211.6L1093.4 211.0L1097.1 210.4L1100.8 209.8L1104.5 209.2L1108.1 208.6L1111.8 208.0L1115.5 207.4L1119.1 206.8L1122.8 206.2L1126.5 205.6L1130.2 205.1L1133.8 204.5L1137.5 203.9L1141.2 203.3L1144.9 202.8L1148.5 202.2L1152.2 201.6L1155.9 201.1L1159.6 200.5L1163.2 200.0L1166.9 199.4L1170.6 198.9L1174.3 198.3L1177.9 197.8L1181.6 197.2L1185.3 196.7L1189.0 196.2L1192.6 195.6L1196.3 195.1L1200.0 194.6L1203.7 194.1L1207.3 193.5L1211.0 193.0L1214.7 192.5L1218.4 192.0L1222.0 191.5L1225.7 191.0L1229.4 190.5L1233.1 190.0L1236.7 189.5L1240.4 189.0L1244.1 188.5L1247.8 188.0L1251.4 187.6L1255.1 187.1L1258.8 186.6L1262.4 186.2L1266.1 185.7L1269.8 185.2L1273.5 184.8L1277.1 184.3L1280.8 183.9L1284.5 183.4L1288.1 183.0L1291.8 182.5L1295.5 182.1L1299.1 181.7L1302.8 181.2L1306.5 180.8L1308.3 180.8L1310.0 181.1L1311.6 181.8L1312.9 182.8L1313.9 184.0L1314.6 185.5L1314.8 187.2L1314.5 189.0L1313.3 192.8L1312.1 196.6L1310.9 200.4L1309.6 204.2L1308.3 208.0L1307.0 211.7L1305.6 215.4L1304.2 219.2L1302.8 222.9L1301.4 226.6L1299.9 230.2L1298.4 233.9L1296.9 237.6L1295.4 241.2L1293.8 244.8L1292.2 248.5L1290.6 252.1L1289.0 255.7L1287.4 259.3L1285.7 262.8L1284.1 266.4L1282.4 270.0L1280.7 273.5L1279.0 277.1L1277.2 280.6L1275.5 284.1L1273.7 287.6L1271.9 291.1L1270.1 294.6L1268.3 298.1L1266.5 301.6L1264.7 305.1L1262.9 308.5L1261.0 312.0L1259.2 315.4L1257.3 318.9L1255.5 322.3L1253.6 325.7L1251.7 329.1L1249.8 332.6L1247.9 336.0L1246.0 339.4L1244.1 342.8L1242.2 346.2L1240.3 349.6L1238.4 353.0L1236.5 356.4L1234.6 359.8L1232.6 363.2L1230.7 366.5L1228.8 369.9L1226.8 373.3L1224.9 376.7L1223.0 380.1L1221.0 383.5L1219.1 386.9L1217.1 390.3L1215.2 393.7L1213.2 397.0L1211.3 400.4L1209.3 403.8L1207.4 407.3L1205.4 410.7L1203.5 414.1L1201.5 417.5L1199.6 420.9L1197.6 424.3L1195.7 427.8L1193.7 431.2L1191.8 434.7L1189.8 438.1L1187.9 441.6L1185.9 445.1L1184.0 448.5L1182.1 452.0L1180.1 455.5L1178.2 459.0L1176.3 462.5L1174.3 466.0L1172.4 469.5L1170.4 473.0L1168.5 476.5L1166.5 480.1L1164.6 483.6L1162.6 487.1L1160.7 490.6L1158.7 494.1L1156.8 497.6L1154.8 501.1L1152.8 504.6L1150.8 508.1L1148.8 511.5L1146.8 515.0L1144.8 518.5L1142.8 521.9L1140.8 525.4L1138.8 528.8L1136.7 532.3L1134.7 535.7L1132.6 539.1L1130.5 542.5L1128.4 545.9L1126.3 549.3L1124.2 552.6L1122.1 556.0L1119.9 559.3L1117.8 562.6L1115.6 565.9L1113.4 569.2L1111.2 572.5L1109.0 575.7L1106.8 578.9L1104.5 582.1L1102.2 585.3L1100.0 588.5L1097.7 591.6L1095.3 594.7L1093.0 597.8L1090.6 600.9L1088.2 603.9L1085.8 606.9L1083.4 609.9L1080.9 612.8L1078.5 615.8L1076.0 618.7L1073.4 621.6L1070.9 624.4L1068.3 627.2L1065.7 630.0L1063.1 632.7L1060.5 635.5L1057.8 638.2L1055.1 640.8L1052.4 643.5L1049.7 646.1L1047.0 648.6L1044.2 651.2L1041.4 653.7L1038.6 656.2L1035.7 658.7L1032.9 661.1L1030.0 663.5L1027.1 665.9L1024.2 668.3L1021.2 670.6L1018.3 672.9L1015.3 675.2L1012.3 677.4L1009.3 679.7L1006.3 681.9L1003.2 684.1L1000.2 686.2L997.1 688.4L994.0 690.5L990.9 692.5L987.8 694.6L984.6 696.7L981.4 698.7L978.3 700.7L975.1 702.6L971.9 704.6L968.7 706.5L965.4 708.4L962.2 710.3L958.9 712.2L955.6 714.0L952.3 715.8L949.0 717.6L945.7 719.4L942.4 721.2L939.1 722.9L935.7 724.7L932.3 726.4L929.0 728.0L925.6 729.7L922.2 731.4L918.8 733.0L915.4 734.6L912.0 736.2L908.5 737.8L905.1 739.4L901.6 740.9L898.2 742.4L894.7 743.9L891.2 745.4L887.7 746.9L884.3 748.4L880.8 749.8L877.3 751.3L873.7 752.7L870.2 754.1L866.7 755.5L863.2 756.9L859.6 758.3L856.1 759.6L852.6 760.9L849.0 762.3L845.5 763.6L841.9 764.9L838.4 766.2L834.8 767.5L831.2 768.7L827.7 770.0L824.1 771.2L820.5 772.5L816.9 773.7L813.4 774.9L809.8 776.1L806.2 777.3L802.6 778.5L799.0 779.6L795.5 780.8L791.9 782.0L788.3 783.1L784.7 784.3L781.1 785.4L777.5 786.5L774.0 787.6L770.4 788.7L766.8 789.8L763.2 790.9L759.6 792.0L756.0 793.0L752.4 794.1L748.8 795.1L745.2 796.2L741.7 797.2L738.1 798.2L734.5 799.3L730.9 800.3L727.3 801.3L723.7 802.3L720.1 803.3L716.5 804.2L712.9 805.2L709.3 806.2L705.7 807.1L702.1 808.1L698.5 809.0L694.9 810.0L691.3 810.9L687.7 811.8L684.1 812.7L680.5 813.6L676.9 814.5L673.3 815.4L669.6 816.3L666.0 817.2L662.4 818.1L658.8 818.9L655.2 819.8L651.6 820.7L648.0 821.5L644.4 822.3L640.8 823.2L637.1 824.0L633.5 824.8L629.9 825.7L626.3 826.5L622.7 827.3L619.0 828.1L615.4 828.9L611.8 829.7L608.2 830.5L604.5 831.2L600.9 832.0L597.3 832.8L593.7 833.6L590.0 834.3L586.4 835.1L582.8 835.8L579.1 836.6L575.5 837.3L571.9 838.0L568.2 838.8L564.6 839.5L561.0 840.2L557.3 841.0L553.7 841.7L550.1 842.4L546.4 843.1L542.8 843.8L539.1 844.5L535.5 845.2L531.8 845.9L528.2 846.6L524.6 847.3L520.9 847.9L517.3 848.6L513.6 849.3L510.0 850.0L506.3 850.6L502.7 851.3L499.0 852.0L495.3 852.6L491.7 853.3L488.0 853.9L484.4 854.6L480.7 855.2L477.0 855.9L473.4 856.5L469.7 857.1L466.1 857.8L462.4 858.4L458.7 859.1L455.1 859.7L451.4 860.3L447.7 860.9L444.0 861.6L440.4 862.2L436.7 862.8L433.0 863.4L429.3 864.0L425.7 864.7L422.0 865.3L418.3 865.9L414.6 866.5L410.9 867.1L407.3 867.7L403.6 868.3L399.9 868.9L396.2 869.6L392.5 870.2L388.8 870.8L385.1 871.4L381.4 872.0L377.7 872.6L374.0 873.2L370.3 873.8L366.7 874.4L363.0 875.0L359.3 875.6L354.7 875.8L350.5 874.8L346.8 872.9L343.8 870.1L341.5 866.5L340.0 862.4L339.6 857.9L340.2 853.0L341.1 849.1"/>
<path d="M275.7 862.0L276.4 858.0L277.1 854.1L277.9 850.1L278.8 846.2L279.7 842.3L280.6 838.5L281.6 834.6L282.7 830.8L283.8 827.0L284.9 823.2L286.0 819.4L287.3 815.6L288.5 811.9L289.8 808.1L291.1 804.4L292.4 800.7L293.8 797.0L295.2 793.4L296.7 789.7L298.2 786.1L299.7 782.4L301.2 778.8L302.8 775.2L304.4 771.6L306.0 768.0L307.6 764.4L309.3 760.9L311.0 757.3L312.6 753.7L314.4 750.2L316.1 746.7L317.9 743.1L319.6 739.6L321.4 736.1L323.2 732.6L325.0 729.1L326.8 725.6L328.7 722.1L330.5 718.7L332.3 715.2L334.2 711.7L336.1 708.2L337.9 704.8L339.8 701.3L341.7 697.8L343.5 694.4L345.4 690.9L347.3 687.5L349.2 684.0L351.1 680.6L353.0 677.1L354.9 673.7L356.8 670.3L358.7 666.8L360.6 663.4L362.6 660.0L364.5 656.5L366.4 653.1L368.3 649.7L370.2 646.3L372.2 642.8L374.1 639.4L376.0 636.0L378.0 632.6L379.9 629.2L381.8 625.7L383.7 622.3L385.7 618.9L387.6 615.5L389.5 612.1L391.5 608.6L393.4 605.2L395.3 601.8L397.2 598.4L399.2 595.0L401.1 591.6L403.0 588.1L405.0 584.7L406.9 581.3L408.8 577.9L410.8 574.5L412.7 571.1L414.7 567.7L416.6 564.3L418.5 560.9L420.5 557.5L422.5 554.1L424.4 550.7L426.4 547.3L428.3 543.9L430.3 540.5L432.3 537.1L434.3 533.7L436.3 530.4L438.3 527.0L440.3 523.6L442.3 520.2L444.3 516.9L446.3 513.5L448.4 510.1L450.4 506.8L452.4 503.4L454.5 500.1L456.6 496.7L458.6 493.4L460.7 490.1L462.8 486.7L464.9 483.4L467.0 480.1L469.1 476.7L471.3 473.4L473.4 470.1L475.6 466.8L477.7 463.5L479.9 460.2L482.1 456.9L484.3 453.7L486.5 450.4L488.7 447.1L490.9 443.9L493.2 440.6L495.5 437.4L497.7 434.2L500.0 431.0L502.4 427.8L504.7 424.6L507.0 421.5L509.4 418.4L511.7 415.2L514.1 412.1L516.5 409.1L519.0 406.0L521.4 403.0L523.9 400.0L526.4 397.0L528.9 394.0L531.4 391.1L533.9 388.2L536.5 385.3L539.0 382.4L541.6 379.6L544.3 376.8L546.9 374.0L549.6 371.3L552.3 368.6L555.0 365.9L557.7 363.3L560.4 360.7L563.2 358.1L566.0 355.6L568.8 353.1L571.7 350.6L574.6 348.2L577.5 345.9L580.4 343.5L583.3 341.2L586.3 339.0L589.3 336.8L592.4 334.6L595.4 332.5L598.5 330.4L601.6 328.4L604.7 326.3L607.8 324.4L611.0 322.4L614.2 320.5L617.4 318.7L620.6 316.8L623.8 315.0L627.1 313.3L630.4 311.5L633.7 309.8L637.0 308.2L640.4 306.5L643.7 304.9L647.1 303.4L650.5 301.8L653.9 300.3L657.3 298.8L660.7 297.4L664.2 295.9L667.6 294.5L671.1 293.1L674.6 291.8L678.1 290.5L681.6 289.2L685.1 287.9L688.7 286.6L692.2 285.4L695.8 284.2L699.3 283.0L702.9 281.8L706.5 280.7L710.1 279.5L713.7 278.4L717.3 277.3L720.9 276.3L724.6 275.2L728.2 274.2L731.8 273.1L735.5 272.1L739.1 271.2L742.8 270.2L746.4 269.2L750.1 268.3L753.8 267.3L757.4 266.4L761.1 265.5L764.8 264.6L768.4 263.7L772.1 262.8L775.8 261.9L779.5 261.1L783.1 260.2L786.8 259.4L790.5 258.5L794.1 257.7L797.8 256.9L801.5 256.0L805.1 255.2L808.8 254.4L812.5 253.6L816.1 252.8L819.8 252.0L823.4 251.2L827.1 250.4L830.7 249.6L834.4 248.9L838.0 248.1L841.7 247.3L845.3 246.6L849.0 245.8L852.6 245.1L856.2 244.3L859.9 243.6L863.5 242.8L867.2 242.1L870.8 241.3L874.4 240.6L878.1 239.9L881.7 239.2L885.3 238.4L889.0 237.7L892.6 237.0L896.2 236.3L899.9 235.6L903.5 234.9L907.2 234.2L910.8 233.5L914.4 232.8L918.1 232.1L921.7 231.4L925.3 230.8L929.0 230.1L932.6 229.4L936.3 228.7L939.9 228.0L943.6 227.4L947.2 226.7L950.8 226.0L954.5 225.4L958.1 224.7L961.8 224.0L965.4 223.4L969.1 222.7L972.7 222.1L976.4 221.4L980.0 220.8L983.7 220.1L987.4 219.5L991.0 218.9L994.7 218.2L998.3 217.6L1002.0 217.0L1005.6 216.3L1009.3 215.7L1013.0 215.1L1016.6 214.5L1020.3 213.8L1024.0 213.2L1027.6 212.6L1031.3 212.0L1035.0 211.4L1038.6 210.8L1042.3 210.2L1046.0 209.6L1049.6 209.0L1053.3 208.4L1057.0 207.8L1060.6 207.2L1064.3 206.6L1068.0 206.0L1071.7 205.4L1075.3 204.9L1079.0 204.3L1082.7 203.7L1086.4 203.2L1090.0 202.6L1093.7 202.0L1097.4 201.5L1101.1 200.9L1104.7 200.3L1108.4 199.8L1112.1 199.2L1115.8 198.7L1119.5 198.1L1123.2 197.6L1126.8 197.1L1130.5 196.5L1134.2 196.0L1137.9 195.5L1141.6 194.9L1145.3 194.4L1148.9 193.9L1152.6 193.4L1156.3 192.9L1160.0 192.3L1163.7 191.8L1167.4 191.3L1171.1 190.8L1174.7 190.3L1178.4 189.8L1182.1 189.3L1185.8 188.8L1189.5 188.4L1193.2 187.9L1196.9 187.4L1200.6 186.9L1204.2 186.4L1207.9 186.0L1211.6 185.5L1215.3 185.0L1219.0 184.6L1222.7 184.1L1226.4 183.6L1230.1 183.2L1233.8 182.7L1237.5 182.3L1241.2 181.8L1244.8 181.4L1248.5 181.0L1252.2 180.5L1255.9 180.1L1259.6 179.7L1263.3 179.2L1267.0 178.8L1270.7 178.4L1274.4 178.0L1278.1 177.6L1281.8 177.2L1285.5 176.7L1289.2 176.3L1292.8 175.9L1296.5 175.5L1300.2 175.2L1303.9 174.8L1307.6 174.4L1311.3 174.0L1315.0 173.6L1318.7 173.2L1322.4 172.9L1326.1 172.5L1329.8 172.1L1333.5 171.8L1337.1 171.4L1340.8 171.0L1344.5 170.7L1348.2 170.3L1351.9 170.0L1355.6 169.7L1359.3 169.3L1363.0 169.0L1366.7 168.7L1369.8 168.6L1372.8 169.1L1375.5 170.0L1377.9 171.3L1379.8 173.1L1381.0 175.4L1381.5 178.0L1381.1 181.0L1380.1 184.9L1379.0 188.7L1377.8 192.5L1376.7 196.3L1375.5 200.1L1374.2 203.8L1372.9 207.6L1371.6 211.3L1370.3 215.0L1368.9 218.7L1367.5 222.4L1366.1 226.1L1364.6 229.8L1363.2 233.4L1361.7 237.1L1360.1 240.7L1358.6 244.3L1357.0 247.9L1355.5 251.5L1353.9 255.1L1352.3 258.7L1350.6 262.3L1349.0 265.9L1347.3 269.5L1345.7 273.0L1344.0 276.6L1342.3 280.1L1340.6 283.7L1338.9 287.2L1337.2 290.8L1335.5 294.3L1333.8 297.9L1332.1 301.4L1330.4 305.0L1328.7 308.5L1327.0 312.0L1325.2 315.6L1323.5 319.1L1321.8 322.6L1320.1 326.2L1318.4 329.7L1316.6 333.2L1314.9 336.7L1313.2 340.3L1311.4 343.8L1309.7 347.3L1308.0 350.8L1306.2 354.3L1304.5 357.8L1302.7 361.3L1300.9 364.8L1299.2 368.3L1297.4 371.8L1295.6 375.3L1293.8 378.8L1292.0 382.3L1290.2 385.8L1288.4 389.2L1286.6 392.7L1284.8 396.2L1282.9 399.6L1281.1 403.1L1279.2 406.6L1277.4 410.0L1275.5 413.4L1273.6 416.9L1271.8 420.3L1269.9 423.7L1267.9 427.2L1266.0 430.6L1264.1 434.0L1262.1 437.4L1260.2 440.8L1258.2 444.2L1256.2 447.6L1254.3 451.0L1252.3 454.4L1250.2 457.7L1248.2 461.1L1246.2 464.5L1244.1 467.8L1242.0 471.1L1240.0 474.5L1237.9 477.8L1235.8 481.1L1233.6 484.4L1231.5 487.7L1229.4 491.0L1227.2 494.3L1225.0 497.6L1222.9 500.9L1220.7 504.1L1218.5 507.4L1216.2 510.6L1214.0 513.9L1211.8 517.1L1209.5 520.3L1207.2 523.5L1204.9 526.7L1202.7 529.9L1200.3 533.0L1198.0 536.2L1195.7 539.3L1193.3 542.4L1191.0 545.6L1188.6 548.7L1186.2 551.8L1183.8 554.9L1181.4 557.9L1179.0 561.0L1176.5 564.0L1174.1 567.0L1171.6 570.1L1169.1 573.1L1166.6 576.1L1164.1 579.0L1161.6 582.0L1159.1 584.9L1156.6 587.9L1154.0 590.8L1151.4 593.7L1148.8 596.6L1146.3 599.4L1143.6 602.3L1141.0 605.1L1138.4 607.9L1135.7 610.7L1133.1 613.5L1130.4 616.3L1127.7 619.0L1125.0 621.8L1122.3 624.5L1119.6 627.2L1116.9 629.9L1114.1 632.5L1111.3 635.2L1108.6 637.8L1105.8 640.4L1103.0 643.0L1100.2 645.6L1097.3 648.1L1094.5 650.6L1091.6 653.2L1088.8 655.6L1085.9 658.1L1083.0 660.6L1080.1 663.0L1077.2 665.4L1074.2 667.8L1071.3 670.2L1068.3 672.5L1065.3 674.8L1062.3 677.1L1059.3 679.4L1056.3 681.6L1053.3 683.9L1050.3 686.1L1047.2 688.3L1044.2 690.4L1041.1 692.6L1038.0 694.7L1034.9 696.8L1031.8 698.9L1028.6 700.9L1025.5 702.9L1022.3 704.9L1019.2 706.9L1016.0 708.8L1012.8 710.8L1009.6 712.6L1006.3 714.5L1003.1 716.4L999.8 718.2L996.6 720.0L993.3 721.7L990.0 723.5L986.7 725.2L983.4 726.9L980.1 728.6L976.7 730.2L973.4 731.9L970.0 733.5L966.7 735.1L963.3 736.6L959.9 738.2L956.5 739.7L953.1 741.2L949.7 742.7L946.2 744.1L942.8 745.6L939.4 747.0L935.9 748.4L932.4 749.8L929.0 751.2L925.5 752.5L922.0 753.8L918.5 755.1L915.0 756.4L911.4 757.7L907.9 759.0L904.4 760.2L900.9 761.5L897.3 762.7L893.8 763.9L890.2 765.1L886.6 766.2L883.1 767.4L879.5 768.5L875.9 769.7L872.3 770.8L868.7 771.9L865.1 773.0L861.5 774.0L857.9 775.1L854.3 776.2L850.7 777.2L847.0 778.2L843.4 779.3L839.8 780.3L836.1 781.3L832.5 782.3L828.9 783.2L825.2 784.2L821.6 785.2L817.9 786.1L814.3 787.1L810.6 788.0L807.0 788.9L803.3 789.9L799.6 790.8L796.0 791.7L792.3 792.6L788.6 793.5L785.0 794.4L781.3 795.3L777.6 796.1L774.0 797.0L770.3 797.9L766.6 798.8L763.0 799.6L759.3 800.5L755.6 801.3L752.0 802.2L748.3 803.1L744.6 803.9L741.0 804.8L737.3 805.6L733.7 806.4L730.0 807.3L726.3 808.1L722.7 809.0L719.0 809.8L715.4 810.7L711.8 811.5L708.1 812.3L704.5 813.2L700.8 814.0L697.2 814.9L693.6 815.7L689.9 816.6L686.3 817.4L682.7 818.2L679.1 819.1L675.4 819.9L671.8 820.8L668.2 821.6L664.6 822.4L661.0 823.3L657.4 824.1L653.7 825.0L650.1 825.8L646.5 826.6L642.9 827.5L639.3 828.3L635.7 829.1L632.1 829.9L628.5 830.8L624.9 831.6L621.3 832.4L617.7 833.2L614.1 834.0L610.5 834.9L606.9 835.7L603.3 836.5L599.7 837.3L596.1 838.1L592.5 838.9L588.9 839.7L585.3 840.5L581.7 841.3L578.1 842.1L574.6 842.9L571.0 843.7L567.4 844.5L563.8 845.3L560.2 846.0L556.6 846.8L553.0 847.6L549.4 848.4L545.8 849.1L542.2 849.9L538.6 850.7L535.0 851.4L531.4 852.2L527.8 852.9L524.2 853.7L520.6 854.4L517.0 855.2L513.4 855.9L509.8 856.6L506.2 857.4L502.6 858.1L499.0 858.8L495.4 859.5L491.8 860.2L488.2 860.9L484.6 861.6L481.0 862.3L477.4 863.0L473.7 863.7L470.1 864.4L466.5 865.1L462.9 865.8L459.3 866.4L455.6 867.1L452.0 867.8L448.4 868.4L444.8 869.1L441.1 869.7L437.5 870.3L433.9 871.0L430.2 871.6L426.6 872.2L422.9 872.8L419.3 873.5L415.6 874.1L412.0 874.7L408.3 875.3L404.7 875.8L401.0 876.4L397.3 877.0L393.7 877.6L390.0 878.1L386.3 878.7L382.7 879.2L379.0 879.8L375.3 880.3L371.6 880.8L367.9 881.4L364.2 881.9L360.5 882.4L356.8 882.9L353.1 883.4L349.4 883.9L345.7 884.3L342.0 884.8L338.3 885.3L334.6 885.7L330.8 886.2L327.1 886.6L323.4 887.1L319.6 887.5L315.9 887.9L312.1 888.3L308.4 888.7L304.6 889.1L300.9 889.5L295.0 889.5L289.7 888.3L285.0 886.0L281.1 882.8L278.1 878.6L276.1 873.7L275.2 868.1L275.7 862.0L276.4 858.0"/>
</g>
<g id="test" shape-rendering="crispEdges" transform="scale(1.08,1)" fill="none" stroke="#ff0000" stroke-width="7.8" stroke-linecap="butt">
<path d="M294.0 807.2L308.4 783.4M326.1 753.3L341.0 729.9M360.7 700.7L376.2 677.7M397.0 647.1L412.4 623.9M432.1 593.4L447.4 570.2M466.9 541.1L482.4 517.9M501.7 488.7L517.6 465.9M538.7 436.0L555.8 414.0M578.9 385.4L598.9 366.2M629.0 342.1L654.3 330.7M375.9 776.7L390.6 753.1M409.3 722.8L424.4 699.4M444.1 670.3L459.4 647.1M479.3 616.7L494.2 593.3M513.0 563.1L527.7 539.5M546.3 509.2L561.6 486.0M582.2 456.6L598.4 434.0M619.2 405.4L636.5 383.6M659.6 357.4L677.6 336.2M435.5 791.5L449.3 767.3M467.5 734.7L481.7 710.9M500.9 680.7L515.6 657.1M534.4 627.0L549.3 603.4M569.3 571.7L584.4 548.3M604.2 518.0L619.3 494.6M639.1 464.2L654.3 441.0M674.0 410.3L690.0 387.5M712.7 357.9L729.3 335.7M567.1 775.4L581.0 751.4M597.7 721.6L612.3 697.8M631.3 668.9L646.8 645.7M666.3 618.1L681.6 594.9M701.5 563.0L716.5 539.6M736.4 509.3L751.4 485.9M771.2 454.1L786.3 430.7M805.2 401.6L821.5 379.0M844.2 350.9L861.4 329.1M1364.0 209.9L1350.4 234.1M1333.5 265.1L1319.3 289.1M1300.3 319.1L1285.2 342.5M1265.5 371.5L1250.1 394.7M1229.2 426.5L1213.8 449.7M1194.3 478.8L1178.8 501.8M1158.3 532.8L1142.3 555.4M1120.9 583.7L1104.3 606.1M1085.8 634.1L1066.7 654.3M1038.1 679.8L1013.8 693.2M1278.8 242.2L1263.6 265.6M1243.9 296.0L1228.7 319.2M1208.9 349.7L1193.6 372.9M1174.1 402.0L1158.7 425.2M1137.8 457.0L1122.4 480.2M1102.9 509.3L1087.4 532.3M1066.7 563.0L1051.1 586.0M1032.2 614.3L1015.5 636.5M991.9 664.7L974.4 686.3M1217.4 252.7L1201.5 275.5M1180.8 304.7L1165.5 327.9M1147.2 358.4L1131.9 381.6M1111.0 411.5L1095.5 434.5M1074.7 465.8L1059.2 488.8M1039.7 518.1L1023.8 540.9M1003.2 568.9L987.3 591.7M967.2 622.8L950.8 645.2M929.0 672.1L911.8 693.9M1072.8 295.7L1058.3 319.5M1039.2 351.0L1024.6 374.6M1005.4 405.4L990.5 429.0M971.7 458.6L956.6 482.0M937.0 512.1L921.7 535.3M901.7 565.9L886.2 588.9M865.9 618.3L850.0 641.1M834.5 664.2L817.0 685.8M689.6 321.6L732.6 310.4M750.5 306.6L794.0 297.4M812.0 294.5L855.6 285.5M873.5 280.8L917.2 272.2M935.1 269.7L978.8 261.3M997.2 257.6L1040.7 248.4M1072.0 240.8L1099.3 235.2M1133.5 229.4L1160.9 224.6M1195.6 218.8L1222.9 213.2M1259.5 203.7L1286.8 198.3M1320.5 193.3L1348.0 188.7M765.4 319.4L790.1 306.6M953.2 283.1L978.2 270.9M1023.9 274.6L1048.3 261.4M1255.1 216.6L1281.9 209.4M1087.4 246.0L1088.0 264.0M280.3 839.0L302.3 850.4M337.6 843.2L364.4 837.0M365.4 809.2L389.3 828.8M398.8 830.8L450.4 819.5M460.0 818.4L515.4 806.0M522.2 805.6L577.8 794.4M583.3 792.4L638.9 782.0M645.4 779.0L700.9 770.0M706.5 766.0L763.0 758.0M767.6 752.0L824.1 744.0M829.6 739.0L857.4 731.0M853.7 732.0L883.3 719.0M890.7 723.0L916.7 719.0M914.8 713.0L941.7 705.0M950.9 708.0L977.8 702.0M707.4 754.0L734.3 746.0M763.9 728.0L790.7 712.0M894.0 305.1L919.0 294.9M972.4 312.5L994.2 297.5M776.0 561.1L788.1 535.3M763.0 590.8L775.1 565.0M750.6 617.5L762.7 591.7M734.1 647.9L746.2 622.1M706.5 705.1L718.7 679.3M778.0 589.9L793.1 565.9M789.7 610.6L804.7 586.6M754.0 664.0L769.0 640.0M824.0 557.2L839.0 533.2M807.3 540.0L822.3 516.0M884.7 369.9L899.7 345.9M894.3 381.7L909.4 357.7M910.7 380.3L925.7 356.3M883.2 404.0L898.2 380.0M849.0 418.8L864.0 394.8M879.2 429.2L894.2 405.2M883.2 442.6L898.2 418.6M863.3 438.1L878.3 414.1M843.4 454.5L858.4 430.5M818.0 475.2L833.1 451.2M838.0 484.1L853.0 460.1M855.8 499.0L870.8 475.0M807.0 504.9L822.0 480.9M818.7 519.7L833.7 495.7M792.5 525.7L807.5 501.7M925.9 328.5L939.4 328.0M924.8 357.2L944.5 337.4M716.6 712.4L733.4 689.6"/>
</g>
<g class="tick" stroke="#ffffff" stroke-width="2" stroke-linejoin="round">
<text y="1008.5"><tspan x="105.2" dy="0.7" text-anchor="middle" textLength="28" lengthAdjust="spacingAndGlyphs">-</tspan><tspan x="258.3" dy="-0.7" text-anchor="end" textLength="138.4" lengthAdjust="spacing">1000</tspan></text>
<text y="914.8"><tspan x="139.1" dy="0.7" text-anchor="middle" textLength="28" lengthAdjust="spacingAndGlyphs">-</tspan><tspan x="258.3" dy="-0.7" text-anchor="end" textLength="104.5" lengthAdjust="spacing">800</tspan></text>
<text y="821.1"><tspan x="139.1" dy="0.7" text-anchor="middle" textLength="28" lengthAdjust="spacingAndGlyphs">-</tspan><tspan x="258.3" dy="-0.7" text-anchor="end" textLength="104.5" lengthAdjust="spacing">600</tspan></text>
<text y="727.4"><tspan x="139.1" dy="0.7" text-anchor="middle" textLength="28" lengthAdjust="spacingAndGlyphs">-</tspan><tspan x="258.3" dy="-0.7" text-anchor="end" textLength="104.5" lengthAdjust="spacing">400</tspan></text>
<text y="633.7"><tspan x="139.1" dy="0.7" text-anchor="middle" textLength="28" lengthAdjust="spacingAndGlyphs">-</tspan><tspan x="258.3" dy="-0.7" text-anchor="end" textLength="104.5" lengthAdjust="spacing">200</tspan></text>
<text y="540.0"><tspan x="258.3" text-anchor="end">0</tspan></text>
<text y="446.3"><tspan x="258.3" text-anchor="end" textLength="104.5" lengthAdjust="spacing">200</tspan></text>
<text y="352.6"><tspan x="258.3" text-anchor="end" textLength="104.5" lengthAdjust="spacing">400</tspan></text>
<text y="258.9"><tspan x="258.3" text-anchor="end" textLength="104.5" lengthAdjust="spacing">600</tspan></text>
<text y="165.2"><tspan x="258.3" text-anchor="end" textLength="104.5" lengthAdjust="spacing">800</tspan></text>
<text y="71.5"><tspan x="258.3" text-anchor="end" textLength="138.4" lengthAdjust="spacing">1000</tspan></text>
<text y="1057.5"><tspan x="245.4" dy="0.7" text-anchor="middle" textLength="28" lengthAdjust="spacingAndGlyphs">-</tspan><tspan x="295.9" dy="-0.7" text-anchor="middle" textLength="70.6" lengthAdjust="spacing">40</tspan></text>
<text y="1057.5"><tspan x="398.1" dy="0.7" text-anchor="middle" textLength="28" lengthAdjust="spacingAndGlyphs">-</tspan><tspan x="448.6" dy="-0.7" text-anchor="middle" textLength="70.6" lengthAdjust="spacing">30</tspan></text>
<text y="1057.5"><tspan x="550.9" dy="0.7" text-anchor="middle" textLength="28" lengthAdjust="spacingAndGlyphs">-</tspan><tspan x="601.4" dy="-0.7" text-anchor="middle" textLength="70.6" lengthAdjust="spacing">20</tspan></text>
<text y="1057.5"><tspan x="703.6" dy="0.7" text-anchor="middle" textLength="28" lengthAdjust="spacingAndGlyphs">-</tspan><tspan x="754.2" dy="-0.7" text-anchor="middle" textLength="70.6" lengthAdjust="spacing">10</tspan></text>
<text y="1057.5"><tspan x="891.2" text-anchor="middle">0</tspan></text>
<text y="1057.5"><tspan x="1044.0" text-anchor="middle" textLength="70.6" lengthAdjust="spacing">10</tspan></text>
<text y="1057.5"><tspan x="1196.7" text-anchor="middle" textLength="70.6" lengthAdjust="spacing">20</tspan></text>
<text y="1057.5"><tspan x="1349.5" text-anchor="middle" textLength="70.6" lengthAdjust="spacing">30</tspan></text>
<text y="1057.5"><tspan x="1502.2" text-anchor="middle" textLength="70.6" lengthAdjust="spacing">40</tspan></text>
</g>
<text class="ser" x="584.5" y="1132" font-size="77" textLength="612" lengthAdjust="spacingAndGlyphs">Displacement/mm</text>
<text class="ser" transform="translate(85,692.5) rotate(-90) scale(1,1.1)" x="0" y="0" font-size="78" textLength="380" lengthAdjust="spacingAndGlyphs">Loading/kN</text>
<g id="legend">
<rect x="1098" y="841" width="116" height="8" fill="#000" shape-rendering="crispEdges"/>
<rect x="1098" y="901" width="30" height="8" fill="#f00" shape-rendering="crispEdges"/>
<rect x="1166" y="901" width="30" height="8" fill="#f00" shape-rendering="crispEdges"/>
<text class="ser" x="1225" y="861" font-size="48.5" textLength="106" lengthAdjust="spacingAndGlyphs">FEM</text>
<text class="ser" x="1226" y="921" font-size="48.5" textLength="88" lengthAdjust="spacingAndGlyphs">Test</text>
</g>
</svg>
</body>
</html>
